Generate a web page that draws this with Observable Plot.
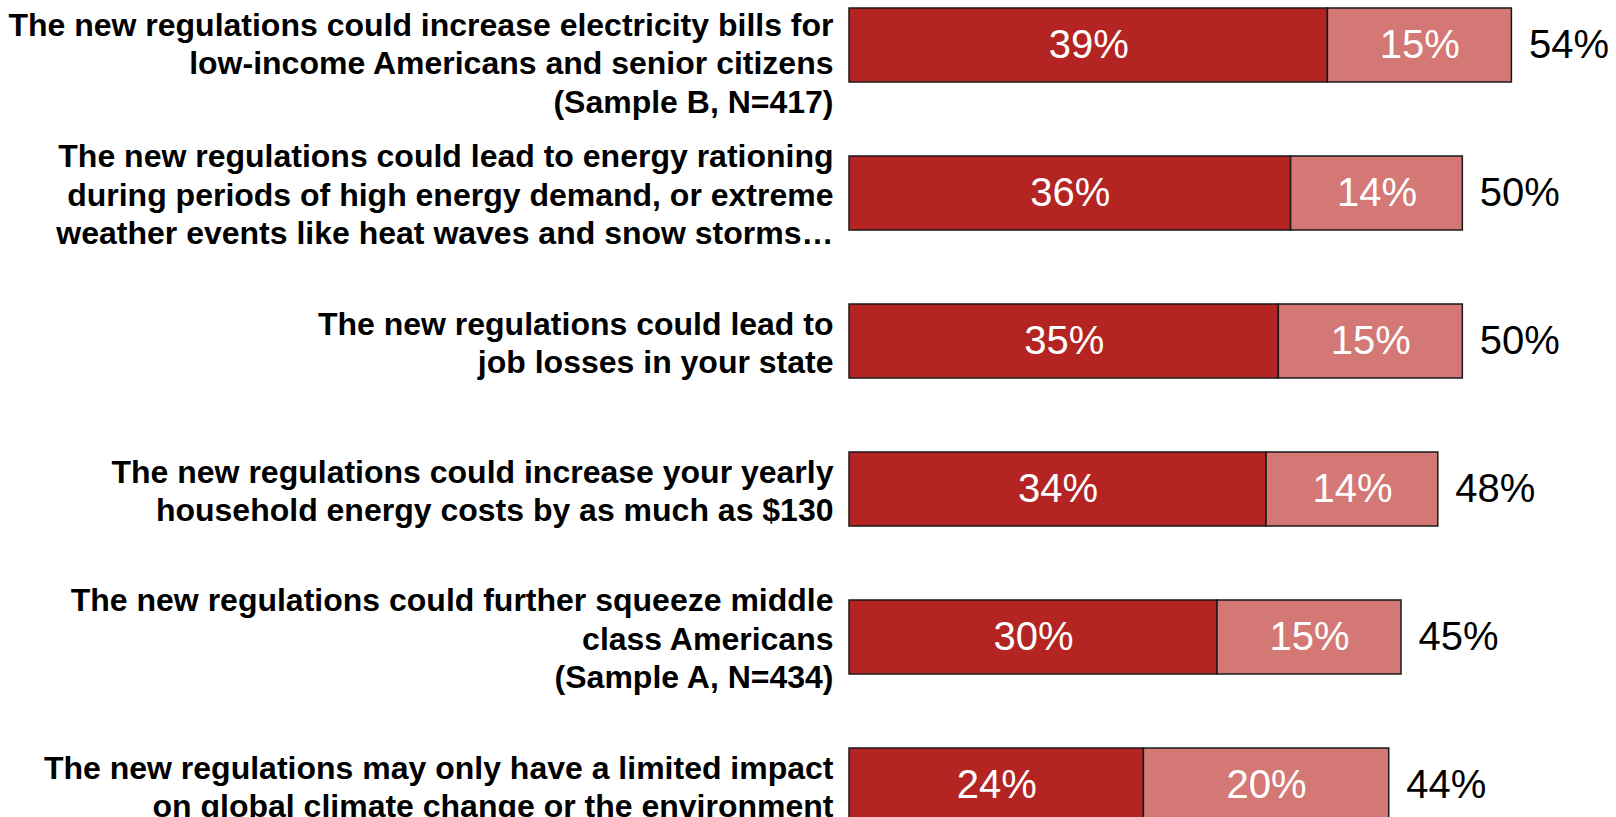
<!DOCTYPE html>
<html>
<head>
<meta charset="utf-8">
<script src="https://cdn.jsdelivr.net/npm/d3@7"></script>
<script src="https://cdn.jsdelivr.net/npm/@observablehq/plot@0.6"></script>
<style>
  html, body { margin: 0; padding: 0; background: #fff; overflow: hidden; }
  #chart svg { display: block; }
</style>
</head>
<body>
<div id="chart"></div>
<script>
const statements = [
  "The new regulations could increase electricity bills for\nlow-income Americans and senior citizens\n(Sample B, N=417)",
  "The new regulations could lead to energy rationing\nduring periods of high energy demand, or extreme\nweather events like heat waves and snow storms…",
  "The new regulations could lead to\njob losses in your state",
  "The new regulations could increase your yearly\nhousehold energy costs by as much as $130",
  "The new regulations could further squeeze middle\nclass Americans\n(Sample A, N=434)",
  "The new regulations may only have a limited impact\non global climate change or the environment"
];
const strongly = [39, 36, 35, 34, 30, 24];
const somewhat = [15, 14, 15, 14, 15, 20];
const totals = [54, 50, 50, 48, 45, 44];
const seriesNames = ["Strongly", "Somewhat"];

const rows = [];
statements.forEach((s, i) => {
  rows.push({statement: s, series: seriesNames[0], x1: 0, x2: strongly[i], value: strongly[i]});
  rows.push({statement: s, series: seriesNames[1], x1: strongly[i], x2: strongly[i] + somewhat[i], value: somewhat[i]});
});
const totalRows = statements.map((s, i) => ({statement: s, total: totals[i], end: strongly[i] + somewhat[i]}));

const labelFont = "'Liberation Sans', Arial, sans-serif";

const chart = Plot.plot({
  width: 1616,
  height: 829,
  marginLeft: 849,
  marginRight: 31,
  marginTop: 0,
  marginBottom: 0,
  style: {fontFamily: labelFont, background: "#fff"},
  x: {domain: [0, 60], axis: null},
  y: {domain: statements, paddingInner: 0.5, paddingOuter: 0.05, axis: null},
  color: {domain: seriesNames, range: ["#B32422", "#D37874"]},
  marks: [
    Plot.barX(rows, {x1: "x1", x2: "x2", y: "statement", fill: "series", stroke: "#1a1a1a", strokeWidth: 1.5}),
    Plot.text(rows, {
      x: d => (d.x1 + d.x2) / 2, y: "statement", text: d => d.value + "%",
      fill: "white", fontSize: 40, fontFamily: labelFont
    }),
    Plot.text(totalRows, {
      x: "end", y: "statement", text: d => d.total + "%",
      textAnchor: "start", dx: 17, fill: "black", fontSize: 40, fontFamily: labelFont
    }),
    Plot.text(totalRows.slice(1), {
      x: 0, y: "statement", text: "statement",
      textAnchor: "end", dx: -16, lineAnchor: "middle", lineHeight: 1.2,
      fontSize: 32, fontWeight: "bold", fill: "black", fontFamily: labelFont
    }),
    Plot.text(totalRows.slice(0, 1), {
      x: 0, y: "statement", text: "statement",
      textAnchor: "end", dx: -16, dy: -37, lineAnchor: "top", lineHeight: 1.2,
      fontSize: 32, fontWeight: "bold", fill: "black", fontFamily: labelFont
    })
  ]
});
document.getElementById("chart").appendChild(chart);
</script>
</body>
</html>
